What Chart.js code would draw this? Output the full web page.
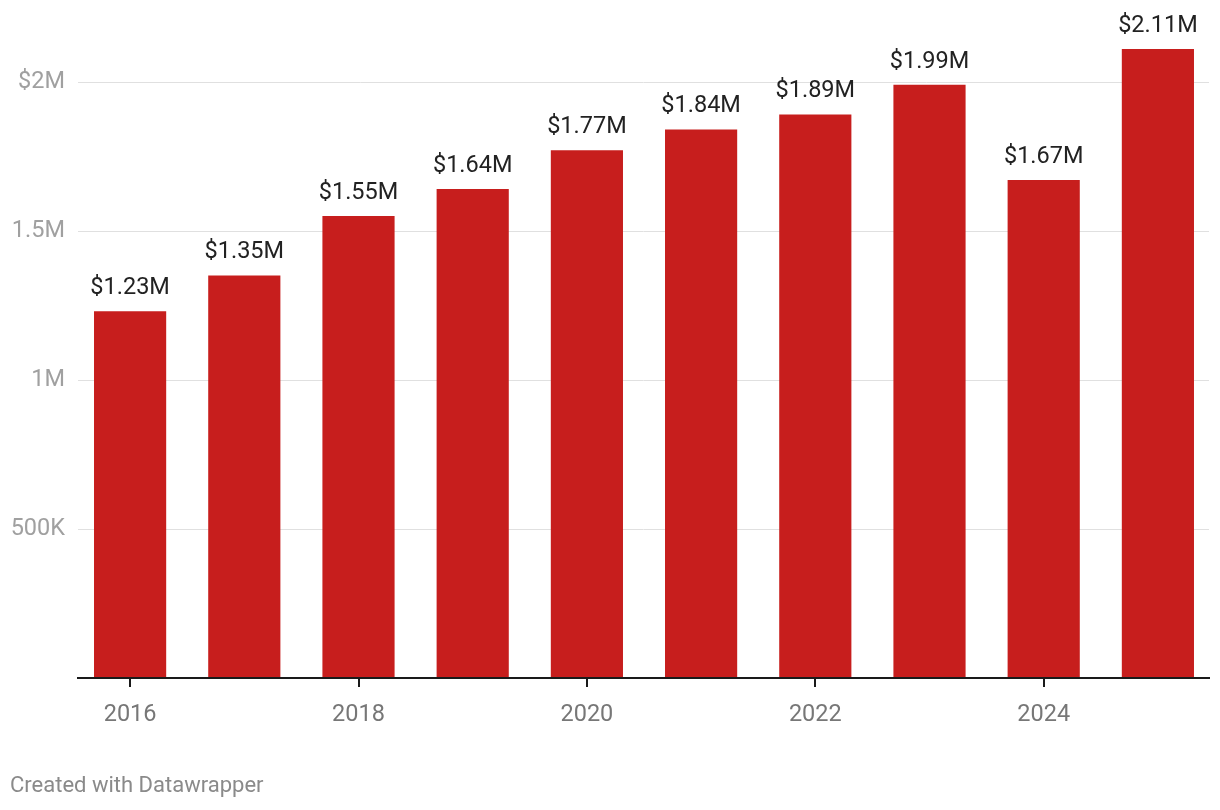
<!DOCTYPE html>
<html>
<head>
<meta charset="utf-8">
<script src="https://cdn.jsdelivr.net/npm/chart.js@4"></script>
<style>
  html, body { margin: 0; padding: 0; background: #fff; }
  #wrap { position: relative; width: 1220px; height: 810px; }
  #credit { position: absolute; left: 10px; top: 772px; font-family: Roboto, sans-serif; font-size: 22px; color: #8a8a8a; }
</style>
</head>
<body>
<div id="wrap">
  <canvas id="c" width="1220" height="810"></canvas>
  <div id="credit">Created with Datawrapper</div>
</div>
<script>
const years = ['2016','2017','2018','2019','2020','2021','2022','2023','2024','2025'];
const values = [1230000, 1350000, 1550000, 1640000, 1770000, 1840000, 1890000, 1990000, 1670000, 2110000];
const valueLabels = ['$1.23M','$1.35M','$1.55M','$1.64M','$1.77M','$1.84M','$1.89M','$1.99M','$1.67M','$2.11M'];
const yTicks = [500000, 1000000, 1500000, 2000000];
const yTickLabels = ['500K', '1M', '1.5M', '$2M'];
const xLabelled = ['2016','2018','2020','2022','2024'];

const FONT = 'Roboto, sans-serif';

const decor = {
  id: 'decor',
  beforeDatasetsDraw(chart) {
    const { ctx, scales: { x, y } } = chart;
    ctx.save();
    ctx.strokeStyle = '#e0e0e0';
    ctx.lineWidth = 1;
    yTicks.forEach(v => {
      const py = Math.round(y.getPixelForValue(v)) + 0.5;
      ctx.beginPath();
      ctx.moveTo(78, py);
      ctx.lineTo(1209, py);
      ctx.stroke();
    });
    ctx.restore();
  },
  afterDatasetsDraw(chart) {
    const { ctx, scales: { x, y } } = chart;
    ctx.save();
    const by = y.getPixelForValue(0);
    ctx.strokeStyle = '#1a1a1a';
    ctx.lineWidth = 2;
    ctx.beginPath();
    ctx.moveTo(77, by);
    ctx.lineTo(1210, by);
    ctx.stroke();
    xLabelled.forEach(lbl => {
      const px = Math.round(x.getPixelForValue(years.indexOf(lbl)));
      ctx.beginPath();
      ctx.moveTo(px, by);
      ctx.lineTo(px, by + 9);
      ctx.stroke();
    });
    ctx.fillStyle = '#222';
    ctx.font = '23.5px ' + FONT;
    ctx.textAlign = 'center';
    ctx.textBaseline = 'middle';
    const meta = chart.getDatasetMeta(0);
    meta.data.forEach((bar, i) => {
      ctx.fillText(valueLabels[i], bar.x, bar.y - 23);
    });
    ctx.restore();
  }
};

new Chart(document.getElementById('c'), {
  type: 'bar',
  data: {
    labels: years,
    datasets: [{
      data: values,
      backgroundColor: '#c71e1d',
      barPercentage: 0.632,
      categoryPercentage: 1.0
    }]
  },
  options: {
    responsive: false,
    animation: false,
    layout: { padding: { top: 21, right: 5, bottom: 82, left: 0 } },
    plugins: { legend: { display: false }, tooltip: { enabled: false } },
    scales: {
      x: {
        grid: { display: false, drawTicks: false },
        border: { display: false },
        ticks: {
          autoSkip: false,
          maxRotation: 0,
          padding: 23,
          color: '#777',
          font: { family: FONT, size: 23.5 },
          callback: (v, i) => xLabelled.includes(years[i]) ? years[i] : ''
        },
        afterFit: s => { s.height = 50; }
      },
      y: {
        min: 0,
        max: 2200000,
        grid: { display: false, drawTicks: false },
        border: { display: false },
        afterBuildTicks: s => { s.ticks = yTicks.map(v => ({ value: v })); },
        ticks: {
          padding: 8,
          color: '#a0a0a0',
          font: { family: FONT, size: 23.5 },
          callback: v => yTickLabels[yTicks.indexOf(v)]
        },
        afterFit: s => { s.width = 73; }
      }
    }
  },
  plugins: [decor]
});
</script>
</body>
</html>
